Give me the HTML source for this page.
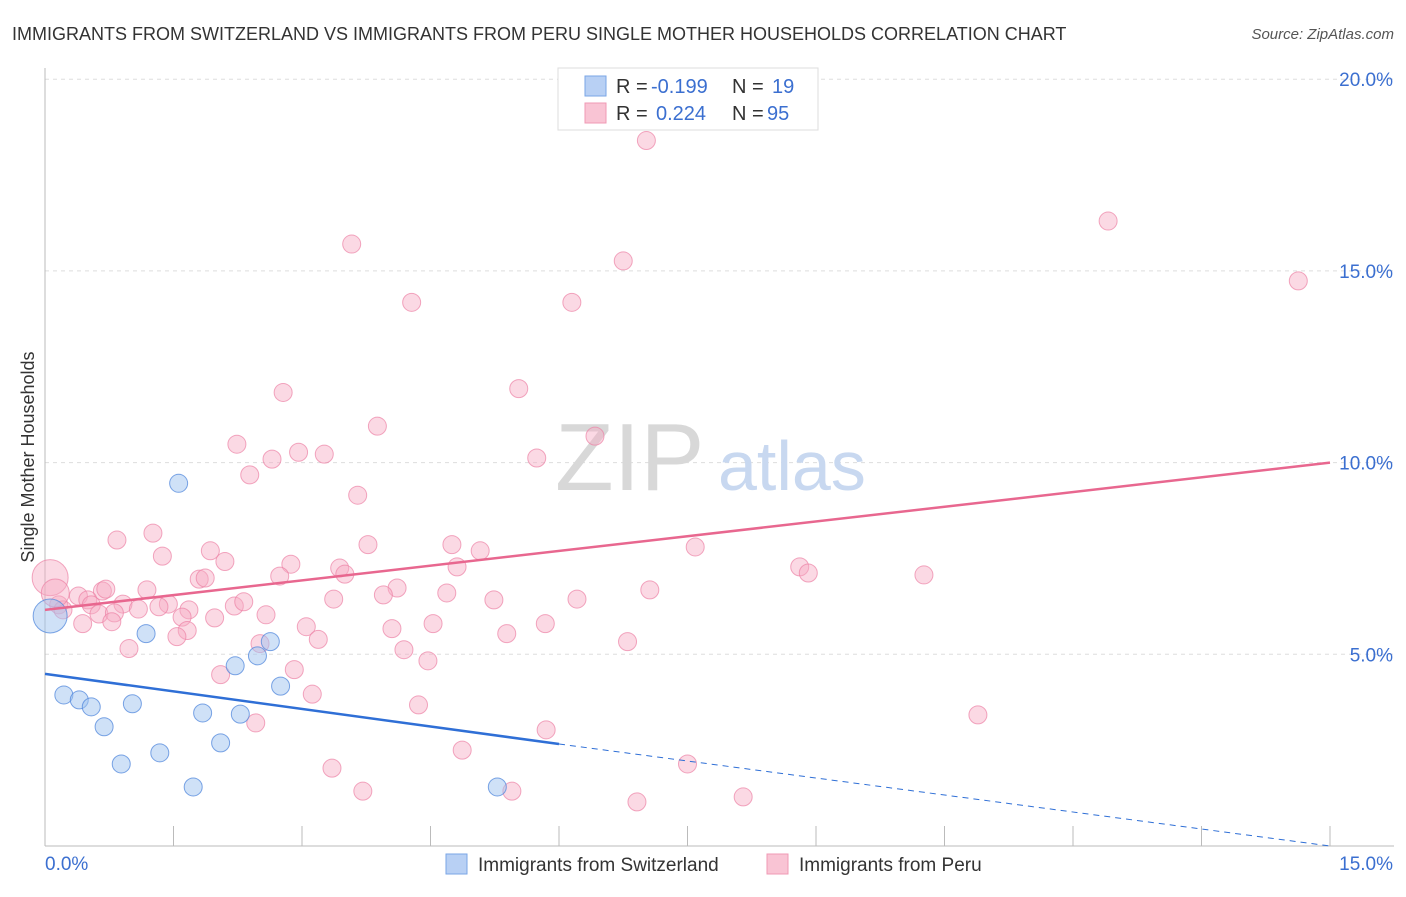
<!DOCTYPE html>
<html><head><meta charset="utf-8">
<style>
body{margin:0;background:#fff;font-family:"Liberation Sans",sans-serif;}
svg text{font-family:"Liberation Sans",sans-serif;}
</style></head>
<body>
<svg id="chart" width="1406" height="892" xmlns="http://www.w3.org/2000/svg">
<text x="12" y="40" font-size="18" fill="#333">IMMIGRANTS FROM SWITZERLAND VS IMMIGRANTS FROM PERU SINGLE MOTHER HOUSEHOLDS CORRELATION CHART</text>
<text x="1394" y="39" font-size="15" fill="#555" text-anchor="end" font-style="italic">Source: ZipAtlas.com</text>
<g id="grid"></g>
<text x="555" y="490" font-size="96" fill="#d8d8d8" font-family="Liberation Serif">ZIP</text>
<text x="718" y="490" font-size="70" fill="#c8d8f0">atlas</text>
<g id="marks"></g>
<text transform="translate(34,457) rotate(-90)" font-size="18" fill="#333" text-anchor="middle">Single Mother Households</text>
<g>
<rect x="558" y="68" width="260" height="62" fill="#fff" stroke="#ddd"/>
<rect x="585" y="76" width="21" height="20" fill="#b8d0f4" stroke="#7aa6e6"/>
<rect x="585" y="103" width="21" height="20" fill="#f9c4d4" stroke="#f09ab4"/>
<text x="616" y="93" font-size="20" fill="#333">R = </text><text x="651" y="93" font-size="20" fill="#3b6fd0">-0.199</text>
<text x="732" y="93" font-size="20" fill="#333">N = </text><text x="772" y="93" font-size="20" fill="#3b6fd0">19</text>
<text x="616" y="120" font-size="20" fill="#333">R = </text><text x="656" y="120" font-size="20" fill="#3b6fd0">0.224</text>
<text x="732" y="120" font-size="20" fill="#333">N = </text><text x="767" y="120" font-size="20" fill="#3b6fd0">95</text>
</g>
<g>
<rect x="446" y="854" width="21" height="20" fill="#b8d0f4" stroke="#7aa6e6"/>
<text x="478" y="871" font-size="19" fill="#333">Immigrants from Switzerland</text>
<rect x="767" y="854" width="21" height="20" fill="#f9c4d4" stroke="#f09ab4"/>
<text x="799" y="871" font-size="19" fill="#333">Immigrants from Peru</text>
</g>
</svg>
<script>
const xTicks=[0,1.5,3,4.5,6,7.5,9,10.5,12,13.5,15];
const yTicks=[5,10,15,20];
const yTickLabels=["5.0%","10.0%","15.0%","20.0%"];
const peruX=[7.02,12.41,14.63,3.58,6.75,4.28,6.15,2.78,5.53,3.88,6.42,2.24,2.96,3.26,2.65,5.74,2.39,3.65,1.26,0.84,3.77,4.75,1.37,5.08,1.93,7.59,2.1,2.87,4.81,8.81,8.91,10.26,3.44,2.74,3.5,1.8,1.87,1.19,0.67,0.71,4.11,3.95,4.69,7.06,0.39,0.5,2.21,2.32,0.91,1.44,1.68,3.37,5.24,6.21,0.16,0.21,0.54,1.09,1.33,0.63,0.81,1.6,2.58,1.98,0.44,0.78,1.66,3.05,4.05,4.53,5.84,3.19,1.54,5.39,6.8,0.98,2.51,4.19,4.47,2.91,2.05,3.12,4.36,2.46,5.85,10.89,4.87,3.35,7.5,3.71,5.45,8.15,6.91,0.06,0.12];
const peruY=[18.4,16.3,14.74,15.7,15.26,14.18,14.18,11.83,11.93,10.95,10.69,10.48,10.27,10.22,10.09,10.12,9.68,9.15,8.16,7.98,7.86,7.86,7.56,7.7,7.7,7.8,7.42,7.35,7.28,7.28,7.12,7.07,7.25,7.04,7.09,6.96,6.99,6.68,6.65,6.7,6.73,6.55,6.6,6.68,6.52,6.42,6.26,6.37,6.31,6.31,6.16,6.44,6.42,6.44,6.29,6.16,6.29,6.18,6.24,6.05,6.08,5.97,6.03,5.95,5.8,5.85,5.62,5.72,5.67,5.8,5.8,5.39,5.46,5.54,5.33,5.15,5.28,5.12,4.83,4.6,4.47,3.96,3.68,3.21,3.03,3.42,2.5,2.03,2.14,1.43,1.43,1.28,1.15,7.0,6.6];
const peruR=[9,9,9,9,9,9,9,9,9,9,9,9,9,9,9,9,9,9,9,9,9,9,9,9,9,9,9,9,9,9,9,9,9,9,9,9,9,9,9,9,9,9,9,9,9,9,9,9,9,9,9,9,9,9,9,9,9,9,9,9,9,9,9,9,9,9,9,9,9,9,9,9,9,9,9,9,9,9,9,9,9,9,9,9,9,9,9,9,9,9,9,9,9,18,14];
const swissX=[1.56,1.18,2.63,2.48,2.22,2.75,0.22,0.4,0.54,1.02,0.69,1.84,2.28,1.34,2.05,0.89,1.73,5.28,0.06];
const swissY=[9.46,5.54,5.33,4.96,4.7,4.17,3.94,3.81,3.63,3.71,3.11,3.47,3.44,2.43,2.69,2.14,1.54,1.54,6.0];
const swissR=[9,9,9,9,9,9,9,9,9,9,9,9,9,9,9,9,9,9,17];
const peruTrend=[0,6.16,15,10.0];
const swissTrend=[0,4.49,6,2.66,15,-0.09];

const NS="http://www.w3.org/2000/svg";
const X=v=>45+v/15*1285, Y=v=>846-v/5*191.7;
const grid=document.getElementById('grid'), marks=document.getElementById('marks'), svg=document.getElementById('chart');
function mk(tag,attrs,parent){const e=document.createElementNS(NS,tag);for(const k in attrs)e.setAttribute(k,attrs[k]);parent.appendChild(e);return e;}
yTicks.forEach((t,i)=>{
  const l=mk('line',{x1:45,x2:1394,y1:Y(t),y2:Y(t),stroke:'#ddd','stroke-dasharray':'4,4'},grid);
  
  
  const tx=mk('text',{x:1393,y:Y(t)+7,'font-size':19,fill:'#3b6fd0','text-anchor':'end'},grid);
  tx.textContent=yTickLabels[i];
  
  
});
const ax=mk('line',{x1:45,x2:1394,y1:846,y2:846,stroke:'#bbb'},grid);


const ay=mk('line',{x1:45,x2:45,y1:68,y2:846,stroke:'#bbb'},grid);


xTicks.forEach((t,i)=>{if(i==0)return;
  const l=mk('line',{x1:X(t),x2:X(t),y1:826,y2:846,stroke:'#bbb'},grid);
  
  
});
const xl0=mk('text',{x:45,y:870,'font-size':19,fill:'#3b6fd0'},grid);xl0.textContent=xTicks[0].toFixed(1)+'%';


const xl1=mk('text',{x:1393,y:870,'font-size':19,fill:'#3b6fd0','text-anchor':'end'},grid);xl1.textContent=xTicks[xTicks.length-1].toFixed(1)+'%';


peruX.forEach((v,i)=>{
  const c=mk('circle',{cx:X(v),cy:Y(peruY[i]),r:peruR[i],fill:'rgba(246,170,196,0.45)',stroke:'rgba(236,130,165,0.7)','stroke-width':1},marks);
  
  
});
swissX.forEach((v,i)=>{
  const c=mk('circle',{cx:X(v),cy:Y(swissY[i]),r:swissR[i],fill:'rgba(160,195,240,0.5)',stroke:'rgba(80,135,220,0.75)','stroke-width':1},marks);
  
  
});
const pt=mk('line',{x1:X(peruTrend[0]),y1:Y(peruTrend[1]),x2:X(peruTrend[2]),y2:Y(peruTrend[3]),stroke:'#e8678f','stroke-width':2.5},marks);


const st=mk('line',{x1:X(swissTrend[0]),y1:Y(swissTrend[1]),x2:X(swissTrend[2]),y2:Y(swissTrend[3]),stroke:'#2f6fd6','stroke-width':2.5},marks);


const sd=mk('line',{x1:X(swissTrend[2]),y1:Y(swissTrend[3]),x2:X(swissTrend[4]),y2:Math.min(846,Y(swissTrend[5])),stroke:'#2f6fd6','stroke-width':1,'stroke-dasharray':'6,5'},marks);


</script>
</body></html>
